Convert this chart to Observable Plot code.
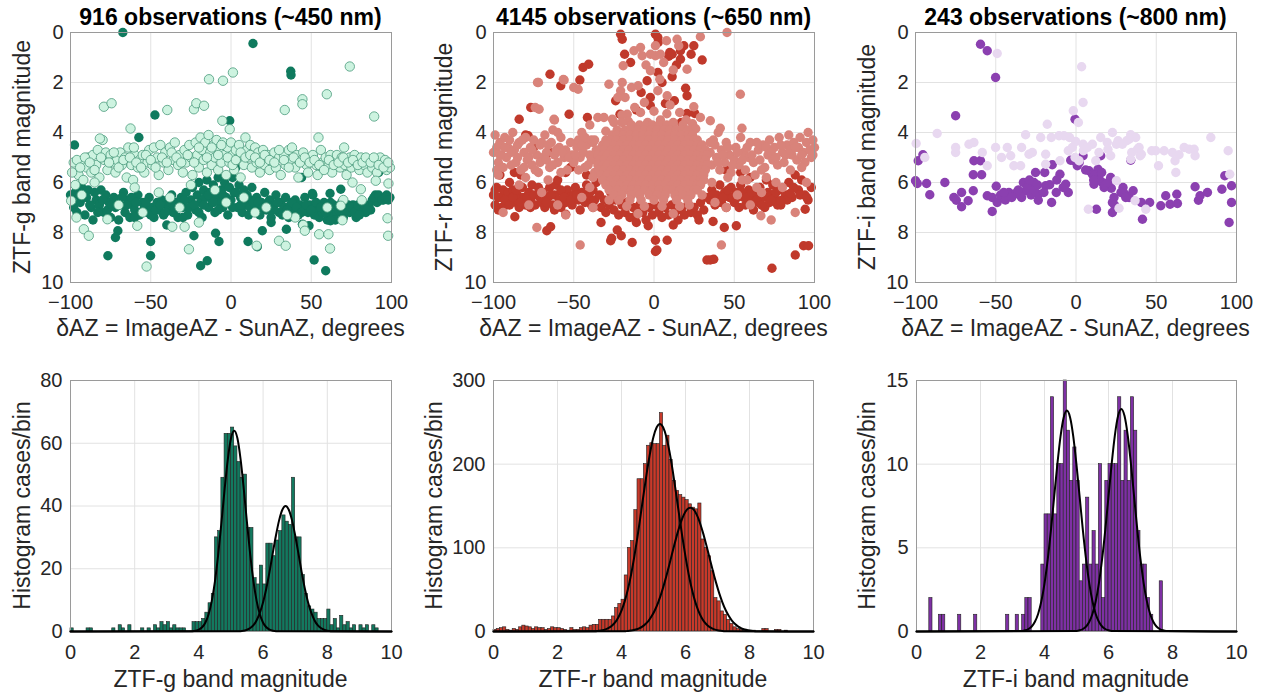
<!DOCTYPE html>
<html><head><meta charset="utf-8">
<script src="https://cdn.jsdelivr.net/npm/d3@7"></script>
<script src="https://cdn.jsdelivr.net/npm/@observablehq/plot@0.6"></script>
<style>
html,body{margin:0;padding:0;background:#fff;}
#root{position:relative;width:1265px;height:696px;overflow:hidden;}
#root svg{position:absolute;left:0;top:0;}
</style></head><body><div id="root"></div>
<script>
// ---------------- DATA ----------------
const titles = ["916 observations (~450 nm)", "4145 observations (~650 nm)", "243 observations (~800 nm)"];
const scatterXLabel = "δAZ = ImageAZ - SunAZ, degrees";
const bandLabels = ["ZTF-g band magnitude", "ZTF-r band magnitude", "ZTF-i band magnitude"];
const histYLabel = "Histogram cases/bin";
const scatterXTicks = [-100, -50, 0, 50, 100];
const scatterYTicks = [0, 2, 4, 6, 8, 10];
const histXTicks = [0, 2, 4, 6, 8, 10];
const histYTicks = [[0, 20, 40, 60, 80], [0, 100, 200, 300], [0, 5, 10, 15]];

// green (ZTF-g) : [dAZ, magnitude]
const gDark = [[-99,6.7],[-98,7.0],[-97,6.4],[-96,7.2],[-94,6.8],[-93,6.2],[-91,7.3],[-90,6.6],[-89,6.3],[-87,7.0],[-86,7.5],[-84,6.7],[-82,6.9],[-81,6.3],[-79,7.2],[-78,6.5],[-76,6.8],[-75,7.4],[-73,6.6],[-72,7.0],[-70,7.5],[-69,6.9],[-67,6.4],[-66,7.2],[-64,6.7],[-63,7.4],[-61,6.9],[-60,7.1],[-58,6.5],[-57,7.3],[-55,6.8],[-54,7.0],[-52,7.2],[-51,6.6],[-49,7.0],[-48,7.4],[-46,6.8],[-45,7.1],[-43,6.7],[-42,7.3],[-40,6.9],[-39,7.1],[-37,6.5],[-36,7.2],[-34,6.8],[-33,7.4],[-31,6.6],[-30,7.0],[-28,6.4],[-27,7.3],[-25,6.7],[-24,6.2],[-22,7.1],[-21,6.5],[-20,6.0],[-19,6.8],[-18,7.4],[-17,6.3],[-16,6.6],[-15,5.9],[-14,7.0],[-13,6.4],[-12,6.7],[-11,6.1],[-10,7.2],[-9,6.5],[-8,5.8],[-7,6.8],[-6,6.3],[-5,7.0],[-4,6.0],[-3,6.6],[-2,7.3],[-1,6.2],[0,6.7],[1,5.8],[2,6.4],[3,5.4],[4,7.0],[5,6.1],[6,6.6],[7,7.2],[8,6.3],[9,6.9],[10,6.5],[11,7.3],[12,6.7],[13,6.2],[15,7.0],[16,6.6],[18,7.3],[19,6.8],[21,6.4],[22,7.1],[24,6.7],[25,7.4],[27,6.9],[28,6.5],[30,7.2],[31,6.8],[33,7.0],[34,6.6],[36,7.4],[37,6.9],[39,7.1],[40,6.7],[42,7.3],[43,6.9],[45,7.0],[46,6.6],[48,7.2],[49,6.9],[51,6.5],[52,7.3],[54,7.0],[55,7.4],[57,7.2],[58,6.8],[60,7.5],[61,7.1],[63,7.3],[64,6.9],[66,7.2],[68,7.0],[70,7.4],[72,7.1],[74,7.2],[76,6.9],[78,7.4],[80,7.1],[82,7.0],[84,7.2],[86,6.9],[88,6.7],[90,6.5],[91,6.8],[93,6.6],[95,6.7],[97,6.5],[99,6.6],
[-100,6.5],[-95,6.5],[-92,6.6],[-88,6.9],[-85,6.4],[-83,7.2],[-80,6.7],[-77,7.1],[-74,6.9],[-71,6.7],[-68,6.6],[-65,6.9],[-62,6.6],[-59,6.8],[-56,7.2],[-53,6.8],[-50,7.3],[-47,7.1],[-44,6.9],[-41,7.2],[-38,6.8],[-35,7.0],[-32,6.9],[-29,6.7],[-26,7.0],[-23,6.9],[-20,7.2],[-17,6.9],[-14,6.5],[-11,6.8],[-8,7.1],[-5,6.5],[-2,6.8],[1,7.0],[3,6.4],[6,6.9],[9,6.6],[12,7.0],[14,6.8],[17,6.8],[20,7.0],[23,6.9],[26,7.1],[29,6.8],[32,7.3],[35,7.1],[38,6.8],[41,7.0],[44,7.2],[47,6.9],[50,7.1],[53,6.8],[56,7.0],[59,7.2],[62,6.8],[65,7.5],[67,7.1],[69,6.8],[71,7.1],[73,6.9],[75,7.0],[77,7.2],[79,6.9],[81,7.2],[83,6.9],[87,7.1],[89,6.6],[92,6.5],[94,6.7],[96,6.6],[98,6.7],
[-67.4,0.0],[13.7,0.44],[37.2,1.55],[37.4,1.7],[-47.4,3.3],[-0.8,3.53],[-57.4,4.2],[-97.5,4.5],[44,5.8],[62,5.27],[92,5.6],[19.5,7.93],[34.5,7.87],[-9.6,8.03],[-7.5,8.36],[10.6,8.36],[16.4,8.57],[-23.1,8.13],[-50.1,8.36],[-50.1,8.93],[-76.7,8.93],[-70.5,7.93],[-72,8.2],[-18.9,9.33],[-14.8,9.13],[51.8,9.1],[59,9.53],[44.5,7.67],[48.6,7.73],[62,7.53],[68.4,6.27],[61.7,6.44],[50.7,6.44],[-60,7.4],[-40,7.7],[-30,7.4],[25,7.6],[80,7.3],[85,7.1]];
const gLight = [[-98,5.2],[-97,6.1],[-95,5.7],[-93,5.2],[-92,5.9],[-90,5.4],[-89,5.0],[-87,5.6],[-86,4.9],[-84,5.3],[-83,4.7],[-82,5.8],[-80,4.3],[-79,5.1],[-78,4.8],[-77,5.5],[-75,4.9],[-74,5.2],[-72,5.6],[-71,5.1],[-69,4.8],[-68,5.3],[-66,5.0],[-65,5.8],[-64,4.6],[-62,5.3],[-61,5.9],[-60,4.9],[-58,5.4],[-57,5.1],[-55,4.9],[-54,5.6],[-52,5.2],[-51,4.7],[-49,5.3],[-48,4.6],[-46,5.0],[-45,5.7],[-44,4.5],[-42,5.2],[-41,4.8],[-39,5.5],[-38,4.6],[-36,5.1],[-35,4.4],[-33,5.3],[-32,4.9],[-30,5.6],[-29,4.7],[-28,5.2],[-26,4.5],[-25,5.0],[-24,5.7],[-22,4.4],[-21,4.9],[-20,5.4],[-19,4.2],[-18,4.7],[-17,5.1],[-16,4.4],[-15,5.6],[-14,4.1],[-13,4.8],[-12,5.3],[-11,4.5],[-10,5.0],[-9,4.3],[-8,5.5],[-7,4.7],[-6,5.2],[-5,4.4],[-4,4.9],[-3,5.7],[-2,4.6],[-1,5.2],[0,4.4],[1,4.9],[2,5.5],[3,4.7],[4,5.1],[5,4.5],[6,5.8],[7,4.9],[8,5.3],[9,4.2],[10,4.7],[11,5.0],[12,4.5],[13,5.4],[14,4.9],[15,4.6],[16,5.2],[17,4.8],[18,5.6],[19,5.0],[20,4.7],[21,5.3],[23,4.9],[24,5.5],[25,5.1],[27,4.8],[28,5.4],[30,5.0],[31,5.7],[33,4.9],[34,5.3],[36,4.7],[37,5.1],[38,4.6],[40,5.4],[41,4.9],[42,5.8],[44,5.1],[45,4.8],[47,5.3],[48,5.6],[50,5.0],[51,4.9],[53,5.3],[54,5.7],[56,4.7],[57,5.2],[59,5.0],[60,5.4],[62,4.9],[63,5.6],[65,5.1],[66,4.9],[68,5.4],[69,5.0],[71,5.3],[72,5.7],[74,5.0],[75,5.4],[77,4.9],[78,5.2],[80,5.5],[81,5.0],[83,5.3],[85,5.6],[86,5.1],[88,5.4],[90,5.1],[91,5.6],[93,5.0],[94,5.3],[96,5.1],[97,5.5],[99,5.4],
[-99,5.6],[-96,5.1],[-94,5.4],[-91,5.0],[-88,5.2],[-85,5.5],[-81,5.0],[-76,5.2],[-73,4.8],[-70,5.4],[-67,5.1],[-63,5.0],[-59,5.2],[-56,5.4],[-53,4.9],[-50,5.1],[-47,5.4],[-43,5.0],[-40,5.2],[-37,4.8],[-34,5.0],[-31,5.2],[-27,4.9],[-23,5.2],[-20,4.6],[-15,5.0],[-12,4.6],[-8,4.9],[-6,4.5],[-2,5.0],[1,5.3],[3,5.1],[6,4.8],[9,5.0],[12,4.9],[15,5.0],[18,5.2],[21,4.9],[24,5.1],[27,5.2],[30,4.7],[33,5.1],[36,5.4],[39,5.0],[43,5.2],[46,5.0],[49,5.2],[52,5.1],[55,5.3],[58,5.5],[61,5.1],[64,5.3],[67,5.2],[70,5.0],[73,5.2],[76,5.1],[79,5.3],[82,5.2],[84,5.0],[87,5.2],[89,5.0],[92,5.3],[95,5.4],[98,5.2],
[-93,6.5],[-70,6.9],[-55,7.2],[-45,6.4],[-38,6.6],[-32,7.0],[-10,6.3],[-3,6.8],[8,6.6],[22,7.0],[40,7.4],[45,7.7],[60,7.0],[-20,7.6],[15,7.2],[35,7.3],[-60,6.2],[-85,6.0],[70,6.7],[-25,6.1],
[-13.7,1.87],[-5,1.93],[1.2,1.6],[74,1.36],[59.7,2.47],[44.5,2.67],[44.5,2.87],[33.5,3.1],[89.2,3.36],[-79.2,2.97],[-74.4,2.83],[-39.7,3.1],[-23.1,3.07],[-21.6,2.83],[-16.8,2.93],[-5.4,3.53],[-0.8,3.87],[-62.6,3.84],[-81.7,4.24],[-60.5,4.6],[54.5,4.2],[70.5,4.6],
[-99.6,6.73],[-96.3,7.4],[-91.7,7.87],[-88.6,8.13],[-77,7.47],[-58.4,7.73],[-52.6,9.36],[-36.6,7.77],[-28.9,7.77],[-26.2,8.67],[16,8.53],[29.9,8.33],[34.1,8.53],[46,7.93],[54.9,8.07],[60.7,8.07],[61.7,8.64],[69.4,7.51],[81.5,6.71],[75.7,6.0],[80.9,6.27],[90.2,5.93],[98.1,6.04],[97.5,7.43],[97.9,8.13],[68.4,6.93]];

// red (ZTF-r)
const rDark = [[-100,6.5],[-99,6.9],[-98,6.2],[-97,7.1],[-96,5.7],[-95,6.6],[-94,6.3],[-92,6.9],[-91,6.4],[-90,6.0],[-89,6.7],[-88,6.3],[-86,6.8],[-85,6.5],[-84,7.0],[-82,6.2],[-81,6.6],[-80,6.9],[-78,6.4],[-77,6.7],[-76,6.1],[-74,6.9],[-73,6.5],[-72,6.2],[-70,6.8],[-69,6.4],[-68,7.0],[-66,6.6],[-65,6.2],[-63,6.9],[-62,6.5],[-61,6.1],[-59,6.7],[-58,7.0],[-57,6.4],[-55,6.8],[-54,6.3],[-53,6.6],[-51,6.9],[-50,6.5],[-49,6.2],[-47,6.7],[-46,7.1],[-45,6.4],[-43,6.8],[-42,6.1],[-41,6.6],[-39,6.9],[-38,6.3],[-37,6.7],[-36,6.0],[-87,5.6],[-83,5.7],[-60,5.9],[-55,5.6],[-42,5.7],[-80,4.1],[-75,4.6],[-65,4.8],[-52,5.4],
[-99,6.3],[-97,6.6],[-95,7.0],[-93,6.7],[-90,6.9],[-88,6.6],[-86,6.3],[-83,6.8],[-79,6.6],[-77,7.0],[-75,6.5],[-71,6.6],[-67,6.8],[-64,6.5],[-62,7.1],[-58,6.3],[-56,6.6],[-52,6.7],[-48,6.5],[-44,6.6],[-40,6.4],[-38,7.0],
[-34,6.5],[-33,7.0],[-31,6.7],[-30,7.2],[-28,6.9],[-27,6.4],[-25,7.1],[-24,6.7],[-22,7.3],[-20,6.9],[-18,7.2],[-17,6.8],[-15,7.4],[-13,7.0],[-11,7.3],[-9,6.9],[-7,7.2],[-5,7.5],[-3,7.0],[-1,7.3],[1,6.9],[3,7.2],[5,7.4],[7,7.0],[9,7.3],[11,6.9],[13,7.2],[15,7.5],[17,7.1],[19,7.3],[21,6.9],[23,7.2],[25,7.0],[27,7.3],[29,6.8],[31,7.1],[33,6.6],[-7,5.8],
[35,6.7],[36,6.3],[38,6.9],[39,6.5],[41,6.1],[42,6.8],[44,6.4],[45,7.0],[47,6.6],[48,6.2],[50,6.8],[51,6.4],[53,7.0],[54,6.1],[56,6.6],[57,6.9],[59,6.3],[60,6.7],[62,7.1],[63,6.5],[65,6.8],[66,6.2],[68,6.6],[69,7.0],[71,6.4],[72,6.8],[74,6.1],[75,6.6],[77,6.9],[78,6.3],[80,6.7],[82,6.5],[84,6.0],[86,6.6],[88,5.7],[90,6.3],[92,5.9],[94,6.5],[96,6.7],[98,6.2],[54,5.6],[60,5.8],[45,5.5],[70,5.9],
[37,6.5],[40,6.8],[43,6.6],[46,6.3],[49,6.6],[52,6.6],[55,6.4],[58,6.6],[61,6.4],[64,6.7],[67,6.9],[70,6.5],[73,6.7],[76,6.4],[79,6.9],[83,6.7],[87,6.2],[91,6.5],
[-20.8,0.07],[-19.8,0.27],[-18.3,0.87],[-14.6,1.2],[0.9,0.07],[2.4,0.2],[2.6,0.4],[9.8,0.8],[9.2,0.95],[11.3,0.87],[16.5,0.73],[18.6,0.53],[24.8,0.53],[30,1.1],[23.1,0.87],[16.5,1.07],[2.4,1.6],[-4.3,1.93],[11.3,1.77],[19.7,2.23],[20.6,2.53],[12.7,2.73],[7.1,2.84],[-2.3,2.6],[-2.3,2.93],[-11,3.1],[20.6,3.24],[25.4,3.24],[-23.9,2.73],[-21.2,3.27],[-41.5,3.4],[-44.2,4.2],[-52.9,3.27],[-58.1,2.13],[-64.8,1.67],[-46.2,1.9],[-44.2,1.4],[-40.7,1.27],[-76.8,3.0],[-84,3.47],[-78.4,4.13],[9.2,3.8],[5,2.0],[14,1.3],[-8,2.4],[17,3.6],
[-66.8,7.93],[-64.4,7.77],[-55,7.27],[-86.7,7.37],[-26.4,8.23],[-22.9,7.9],[-20.4,8.13],[-13.6,8.4],[-27,8.33],[0.9,8.31],[0.9,8.76],[1.8,8.7],[8.2,8.31],[-3.6,7.73],[33,9.1],[35,9.1],[37.2,9.07],[36.8,7.56],[43.8,7.8],[51.3,7.73],[73.5,9.43],[88,8.9],[93.2,8.53],[96.3,8.53],[79,6.73],[84.9,6.44],[95.2,6.6],[94.2,7.07],[-11,7.6],[12,7.7],[-33,7.6],[28,7.5]];
const rLight = [[-99,4.1],[-98,4.6],[-97,5.2],[-96,4.4],[-95,4.9],[-93,4.2],[-92,5.0],[-91,4.6],[-89,5.3],[-88,4.0],[-87,4.7],[-85,5.0],[-84,4.4],[-83,5.5],[-81,4.8],[-80,4.2],[-79,5.1],[-77,4.6],[-76,5.3],[-75,4.3],[-73,4.9],[-72,5.6],[-71,4.5],[-69,5.0],[-68,4.1],[-67,4.8],[-65,5.4],[-64,4.4],[-63,3.9],[-62,4.9],[-60,5.2],[-59,4.6],[-58,4.2],[-56,5.0],[-55,4.7],[-54,5.5],[-52,4.4],[-51,4.9],[-50,5.2],[-48,4.6],[-47,4.3],[-46,5.0],[-44,4.8],[-43,5.4],[-42,4.5],[-40,4.9],[-39,5.1],[-38,4.4],[-37,5.6],[-36,4.7],
[-100,4.8],[-98,5.5],[-96,4.9],[-94,5.4],[-93,4.6],[-90,4.3],[-89,4.8],[-86,5.2],[-85,4.5],[-82,4.3],[-81,5.4],[-78,5.0],[-76,4.7],[-74,5.5],[-71,5.2],[-70,4.4],[-67,5.1],[-66,4.5],[-63,5.3],[-61,4.7],[-58,5.6],[-57,4.8],[-53,5.0],[-49,4.9],[-47,5.5],[-45,4.5],[-43,4.2],[-41,5.3],[-39,4.3],
[-97,5.7],[-94,7.2],[-84,6.1],[-78,6.9],[-73,7.8],[-70,6.4],[-60,6.9],[-55,7.3],[-45,6.6],[-46,8.5],[-40,6.2],[-38,7.0],[-80,5.8],[-66,5.9],[-72,2.0],[-56,1.9],[-74,3.0],[-62,3.5],[-60,4.0],[-50,2.2],[-45,4.0],[-40,3.7],[-35,3.4],
[35,4.8],[36,5.3],[38,4.5],[39,5.0],[41,5.5],[42,4.7],[44,5.2],[45,4.4],[47,4.9],[48,5.6],[50,5.1],[51,4.6],[53,5.3],[54,4.2],[56,4.8],[57,5.5],[59,5.0],[60,4.4],[62,5.2],[63,5.7],[65,4.7],[66,5.1],[68,4.5],[69,5.4],[71,4.9],[72,4.3],[74,5.1],[75,4.6],[77,5.3],[78,4.2],[80,4.8],[81,5.2],[83,4.5],[84,4.1],[86,4.9],[87,4.4],[89,5.1],[90,4.6],[91,4.2],[93,4.8],[94,5.2],[95,4.4],[96,4.0],[97,4.7],[98,5.0],[99,4.3],[100,4.6],[40,4.0],[46,5.8],[58,5.9],[70,5.8],[76,6.0],[85,5.5],[92,5.4],
[37,4.3],[40,5.2],[43,4.9],[46,4.6],[49,5.3],[52,4.8],[55,5.1],[58,4.6],[61,4.9],[64,4.4],[67,5.5],[70,4.6],[73,4.8],[76,5.0],[79,4.5],[82,4.9],[85,4.7],[88,4.6],[92,4.9],[99,4.9],
[38,6.8],[42,8.5],[45,7.0],[52,6.5],[60,6.9],[67,6.4],[66.6,7.33],[73,7.5],[80,6.2],[88,7.2],[95,6.0],[55,5.9],[64,6.2],
[-12.5,0.73],[-8.4,0.6],[-7.4,0.93],[-2.2,0.87],[0.9,0.93],[4,0.87],[7.8,0.33],[14.4,0.27],[15.4,0.53],[28.9,0.17],[45.5,0],[0.9,0.53],[-2.2,1.53],[3.6,1.87],[20.6,1.47],[-19.2,1.33],[-19.8,2.0],[-9.9,2.13],[-28.1,2.07],[-72.6,2.0],[-56.5,1.88],[-47.3,2.27],[-20.8,2.33],[-22.5,2.6],[2.4,2.33],[8.2,2.53],[24.8,2.97],[53.8,2.47],[-71.6,3.07],[-62.3,3.47],[-31.2,3.4],[-26,3.47],[-16.7,3.27],[-8.4,3.2],[28.9,3.4],[35.1,3.53],[41.3,3.83],[54.8,3.83],[-25,3.6],[-20,3.3],[-16,3.55],[-12,3.0],[-4,3.6],[0,3.15],[4,3.5],[8,3.25],[12,3.6],[16,3.2],[20,3.5],[24,3.65],[-18,2.6],[-6,2.8],[10,2.9],[-14,2.2],[6,1.2],[-5,1.3],[12,1.5],
[-37,4.3],[-38,5.8],[35,4.4],[36,6.0],[-30,3.95],[26,3.85],[-20,3.6],[22,6.9],[-28,6.7],[30,6.5]];
// dense central cloud of the r band, read row by row: [magnitude, [dAZ ...]]
const rCloudRows = [
 [3.7, [-14,-9,-5,-1,3,8,12,18]],
 [3.9, [-23,-18,-14.5,-10,-6,-2,2,6.5,10,14,18,21]],
 [4.1, [-26,-23,-19,-15,-11,-7,-3,1,5,9.5,13,17,21,24]],
 [4.3, [-30,-27,-23.5,-19,-15,-11,-7,-3,1,5,9,13,17.5,21,25,27]],
 [4.5, [-32,-29,-25,-21,-17,-13,-9,-5,-1,3,7,11,15,19,23,27,30]],
 [4.7, [-34,-31,-27,-23,-19,-15.5,-11,-7,-3,1,5,9,13,17,21,25,29,32]],
 [4.9, [-35,-32,-29,-25,-21,-17,-13,-9,-5,-1,3,7,11,15,19,23,27,31,33]],
 [5.1, [-34,-31,-27,-23,-19,-15,-11,-7,-3,1,5,9,13,17,21,25,29,32]],
 [5.3, [-35,-32,-29,-25,-21,-17,-13,-9,-5,-1,3,7,11,15,19,23,27,31,33]],
 [5.5, [-34,-31,-27,-23,-19,-15,-11,-7,-3,1,5,9,13,17,21,25,29,32]],
 [5.7, [-33,-29,-25,-21,-17,-13,-9,-5,-1,3,7,11,15,19,23,27,31]],
 [5.9, [-32,-27,-23,-19,-15,-11,-7,-3,1,5,9,13,17,21,25,29,31]],
 [6.1, [-30,-25,-21,-17,-13,-9,-5,-1,3,7,11,15,19,23,27,29]],
 [6.3, [-28,-23,-18,-14,-10,-6,-1,3,8,12,16,21,25,27]],
 [6.5, [-25,-20,-14,-9,-3,2,7,13,18,23]],
 [6.7, [-22,-15,-8,0,6,14,21]],
 [6.95, [-17,-6,5,16]],
 [7.25, [-10,12]]
];

// purple (ZTF-i)
const iDark = [[-59.5,0.47],[-55.3,0.73],[-50.1,1.8],[-75,3.33],[-0.6,3.47],[-98.3,5.13],[-95.4,4.89],[-100,5.93],[-98.9,6.04],[-93.1,6.04],[-91.1,6.49],[-81.7,6.0],[-76.1,6.6],[-74.6,6.71],[-71.3,6.4],[-71.3,6.97],[-67.2,6.73],[-64,6.33],[-63.6,5.13],[-59.5,5.13],[-64,5.69],[-58.8,5.69],[-55.3,6.53],[-52.2,6.6],[-52.2,7.16],[-49.7,6.15],[-49.1,6.8],[-45.9,6.6],[-43.9,6.47],[-41.8,6.4],[-39.7,6.49],[-37.6,6.44],[-33.9,6.6],[-32.8,6.0],[-31.4,6.33],[-29.7,6.13],[-28.3,6.07],[-27.2,6.4],[-26.2,6.0],[-25.2,5.6],[-23.5,6.71],[-23.5,6.47],[-19.5,5.6],[-18.9,6.13],[-16.4,6.09],[-14.8,5.29],[-15.2,6.8],[-12.3,6.4],[-10,5.67],[-6.4,6.07],[-4.8,6.4],[-3.3,5.11],[-1.2,5.13],[0.8,5.33],[4.4,4.93],[8.1,5.53],[10.2,5.67],[11.2,6.07],[12.7,7.07],[13.7,5.47],[15.4,4.93],[14.3,5.83],[16.4,6.0],[17.5,6.2],[21.6,5.8],[22,6.23],[22.7,6.8],[22.7,7.2],[23.7,6.6],[29.3,6.2],[30.6,6.47],[33.1,6.6],[34.1,5.11],[35.6,6.33],[40.7,6.8],[41.4,7.47],[45.9,6.8],[52.8,6.93],[55.9,6.53],[58.6,6.87],[63.2,6.84],[62.8,6.47],[74.2,6.17],[76.3,6.71],[77.3,6.53],[81.9,6.4],[90.9,6.27],[92.7,5.73],[96.9,6.13],[96.9,6.8],[95.4,7.6],
[-30,6.2],[-28,6.5],[-26,6.3],[-24,6.1],[-29,5.9],[-35,6.5],[-47,6.5],[-44,6.7],[12,5.7],[14,5.9],[16,5.6],[18,6.1],[11,5.9],[28,6.4],[31,6.6],[-8,6.2],[2,5.2],[6,5.5],[-20,6.4],[-12,5.9],[-45,6.4],[-40,6.6],[-36,6.3],[20,6.0],[24,6.9]];
const iLight = [[-49.1,0.84],[3.5,1.37],[4.4,2.8],[-1.7,3.13],[1.5,3.6],[-17.9,3.67],[-31.4,4.09],[-22,4.2],[-15.4,4.2],[-10.6,4.13],[-7.5,4.13],[-4,4.2],[-0.2,4.36],[4.4,4.47],[10.2,4.47],[15.4,4.2],[19.5,4.4],[22.7,4.0],[26.2,4.33],[31.6,4.33],[34.1,4.09],[37.2,4.2],[39.3,4.6],[40.7,4.87],[34.7,4.8],[34.1,5.07],[84,4.2],[94.8,4.73],[95.8,5.67],[-86.5,4.04],[-99.6,4.44],[-94.2,5.0],[-75,4.6],[-75,4.8],[-66.7,4.47],[-63.6,4.4],[-58.4,4.8],[-55.3,5.33],[-50.1,4.6],[-46.4,5.0],[-42.8,4.6],[-40.7,4.93],[-38.7,5.33],[-34.5,5.33],[-33.9,4.6],[-29.3,4.87],[-27.2,4.8],[-18.9,4.87],[-18.9,5.27],[-10,5.13],[-4.8,4.73],[-2.3,4.6],[-0.6,5.0],[1.9,5.13],[4.6,4.73],[7.1,4.6],[12.3,5.13],[14.3,4.8],[19.9,4.67],[21.6,4.93],[25.2,4.47],[28.9,4.47],[33.1,4.27],[38.3,4.67],[40,4.93],[47.2,4.73],[49.7,4.73],[51.4,5.33],[54.9,4.73],[60.1,4.8],[61.7,5.13],[62.2,5.6],[64.2,4.89],[67.4,4.6],[70.5,4.67],[73.6,4.67],[74.2,4.93],[7.7,7.07],[25.2,5.93],[26.8,7.03],[36.8,6.73],[43.5,7.07]];

// histograms: counts per 0.1-magnitude bin, starting at magnitude 0.0
const binWidth = 0.1;
const gCounts = [1,0,0,0,0,1,1,0,0,0, 0,0,0,1,0,2,1,0,2,0, 0,0,1,0,1,0,2,1,3,2, 3,1,2,1,1,1,0,0,3,3, 3,4,6,9,12,30,32,49,63,63, 65,59,54,49,50,33,33,17,15,21, 15,28,28,24,29,32,37,35,34,49, 30,30,18,12,8,7,6,4,4,4, 7,2,4,1,5,2,3,1,2,0, 2,1,2,0,2,1,0,0,0,0];
const rCounts = [2,3,4,5,2,1,3,2,5,7, 6,5,3,5,4,4,2,3,5,4, 4,3,2,1,4,2,2,4,5,4, 7,8,8,14,14,14,14,18,28,33, 38,67,100,108,145,182,182,200,222,225, 224,224,261,222,234,205,180,168,163,160, 157,152,148,146,153,110,100,90,72,40, 36,24,20,14,9,5,3,2,1,1, 1,1,0,0,3,3,0,0,2,2, 0,1,0,0,0,0,0,0,0,0];
const iCounts = [0,0,0,0,2,0,0,1,1,0, 0,0,0,1,0,0,0,0,1,0, 0,0,0,0,0,0,0,0,1,0, 0,1,0,1,2,2,0,0,0,4, 7,7,14,7,10,10,15,12,9,11, 9,3,4,8,4,6,4,10,2,9, 10,10,10,14,9,12,9,14,12,6, 4,4,2,1,0,0,3,0,0,0, 0,0,0,0,0,0,0,0,0,0, 0,0,0,0,0,0,0,0,0,0];

// fitted Gaussian curves: [magnitude, cases]
const gFit1 = [[0,0],[3.8,0.1],[3.9,0.25],[4.0,0.6],[4.1,1.35],[4.2,2.8],[4.3,5.4],[4.4,9.7],[4.5,16.0],[4.6,24.4],[4.7,34.5],[4.8,45.2],[4.9,54.8],[5.0,61.6],[5.1,64],[5.2,61.6],[5.3,54.8],[5.4,45.2],[5.5,34.5],[5.6,24.4],[5.7,16.0],[5.8,9.7],[5.9,5.4],[6.0,2.8],[6.1,1.35],[6.2,0.6],[6.3,0.25],[6.4,0.1],[10,0]];
const gFit2 = [[0,0],[5.3,0.1],[5.4,0.26],[5.5,0.55],[5.6,1.1],[5.7,2.0],[5.8,3.6],[5.9,6.0],[6.0,9.3],[6.1,13.7],[6.2,19.0],[6.3,24.9],[6.4,30.6],[6.5,35.5],[6.6,38.8],[6.7,40],[6.8,38.8],[6.9,35.5],[7.0,30.6],[7.1,24.9],[7.2,19.0],[7.3,13.7],[7.4,9.3],[7.5,6.0],[7.6,3.6],[7.7,2.0],[7.8,1.1],[7.9,0.55],[8.0,0.26],[8.1,0.1],[10,0]];
const rFit1 = [[0,0],[3.1,0.2],[3.2,0.4],[3.3,0.8],[3.4,1.4],[3.5,2.5],[3.6,4.2],[3.7,6.9],[3.8,10.9],[3.9,16.8],[4.0,25.0],[4.1,36.0],[4.2,50.4],[4.3,68.2],[4.4,89.4],[4.5,113.5],[4.6,139.7],[4.7,166.5],[4.8,192.2],[4.9,214.8],[5.0,232.7],[5.1,244.1],[5.2,248],[5.3,244.1],[5.4,232.7],[5.5,214.8],[5.6,192.2],[5.7,166.5],[5.8,139.7],[5.9,113.5],[6.0,89.4],[6.1,68.2],[6.2,50.4],[6.3,36.0],[6.4,25.0],[6.5,16.8],[6.6,10.9],[6.7,6.9],[6.8,4.2],[6.9,2.5],[7.0,1.4],[7.1,0.8],[7.2,0.4],[7.3,0.2],[10,0]];
const rFit2 = [[0,0],[4.05,0.25],[4.15,0.45],[4.25,0.8],[4.35,1.4],[4.45,2.3],[4.55,3.7],[4.65,5.8],[4.75,8.9],[4.85,13.1],[4.95,18.7],[5.05,26.0],[5.15,35.2],[5.25,46.2],[5.35,59.0],[5.45,73.2],[5.55,88.3],[5.65,103.3],[5.75,117.6],[5.85,130.0],[5.95,139.7],[6.05,145.9],[6.15,148],[6.25,145.9],[6.35,139.7],[6.45,130.0],[6.55,117.6],[6.65,103.3],[6.75,88.3],[6.85,73.2],[6.95,59.0],[7.05,46.2],[7.15,35.2],[7.25,26.0],[7.35,18.7],[7.45,13.1],[7.55,8.9],[7.65,5.8],[7.75,3.7],[7.85,2.3],[7.95,1.4],[8.05,0.8],[8.15,0.45],[8.25,0.25],[10,0]];
const iFit1 = [[0,0],[3.3,0.03],[3.4,0.07],[3.5,0.15],[3.6,0.30],[3.7,0.58],[3.8,1.05],[3.9,1.79],[4.0,2.86],[4.1,4.29],[4.2,6.04],[4.3,8.01],[4.4,9.96],[4.5,11.65],[4.6,12.79],[4.7,13.2],[4.8,12.79],[4.9,11.65],[5.0,9.96],[5.1,8.01],[5.2,6.04],[5.3,4.29],[5.4,2.86],[5.5,1.79],[5.6,1.05],[5.7,0.58],[5.8,0.30],[5.9,0.15],[6.0,0.07],[6.1,0.03],[10,0]];
const iFit2 = [[0,0],[5.0,0.03],[5.1,0.07],[5.2,0.15],[5.3,0.30],[5.4,0.58],[5.5,1.06],[5.6,1.80],[5.7,2.88],[5.8,4.32],[5.9,6.09],[6.0,8.07],[6.1,10.04],[6.2,11.74],[6.3,12.89],[6.4,13.3],[6.5,12.89],[6.6,11.74],[6.7,10.04],[6.8,8.07],[6.9,6.09],[7.0,4.32],[7.1,2.88],[7.2,1.80],[7.3,1.06],[7.4,0.58],[7.5,0.30],[7.6,0.15],[7.7,0.07],[7.8,0.03],[10,0]];

// ---------------- DRAWING ----------------
const W = 1265, H = 696;
const FONT = "'Liberation Sans', Arial, Helvetica, sans-serif";
const root = document.getElementById("root");
const boxes = {
  top: [{l:70,r:391,t:32,b:282},{l:493,r:814,t:32,b:282},{l:915,r:1236,t:32,b:282}],
  bot: [{l:70,r:391,t:380,b:631},{l:493,r:813,t:380,b:631},{l:916,r:1236,t:380,b:631}]
};
const palette = [
  {dark:"#0f7a5e", light:"#cdf3e0", lightStroke:"#4a9a7c", bar:"#13795f"},
  {dark:"#c0392b", light:"#d9837a", lightStroke:"none", bar:"#c8392a"},
  {dark:"#8b40b0", light:"#e8d8f0", lightStroke:"none", bar:"#7e30a4"}
];
const gridColor = "#e2e2e2", frameColor = "#9a9a9a";
const DOT_R = 4.7;

function makePlot(box, x, y, marks) {
  const svg = Plot.plot({
    width: W, height: H,
    marginLeft: box.l, marginRight: W - box.r, marginTop: box.t, marginBottom: H - box.b,
    x, y,
    style: {background: "transparent", fontFamily: FONT, color: "#262626", overflow: "visible"},
    marks
  });
  root.appendChild(svg);
}

const dx = d => d[0], dy = d => d[1];
const scatterSets = [
  [gDark, gLight],
  [rDark, rLight.concat(rCloudRows.flatMap(([m, xs]) => xs.map(v => [v, m])))],
  [iDark, iLight]
];
scatterSets.forEach(([dk, lt], k) => {
  const p = palette[k];
  makePlot(boxes.top[k],
    {domain: [-100, 100]},
    {domain: [0, 10], reverse: true},
    [
      Plot.gridX(scatterXTicks, {stroke: gridColor, strokeOpacity: 1}),
      Plot.gridY(scatterYTicks, {stroke: gridColor, strokeOpacity: 1}),
      Plot.dot(dk, {x: dx, y: dy, r: DOT_R, fill: p.dark, stroke: "none"}),
      Plot.dot(lt, {x: dx, y: dy, r: DOT_R, fill: p.light, stroke: p.lightStroke, strokeWidth: 0.8}),
      Plot.frame({stroke: frameColor}),
      Plot.axisX(scatterXTicks, {tickSize: 0, tickPadding: 12, fontSize: 20, label: null}),
      Plot.axisY(scatterYTicks, {tickSize: 0, tickPadding: 7, fontSize: 20, label: null})
    ]);
});

const histSets = [[gCounts, gFit1, gFit2, 80], [rCounts, rFit1, rFit2, 300], [iCounts, iFit1, iFit2, 15]];
histSets.forEach(([counts, f1, f2, ymax], k) => {
  const p = palette[k];
  const bins = counts.map((n, i) => ({x0: i * binWidth, n})).filter(d => d.n > 0);
  makePlot(boxes.bot[k],
    {domain: [0, 10]},
    {domain: [0, ymax]},
    [
      Plot.gridX(histXTicks, {stroke: gridColor, strokeOpacity: 1}),
      Plot.gridY(histYTicks[k], {stroke: gridColor, strokeOpacity: 1}),
      Plot.rectY(bins, {x1: d => d.x0, x2: d => d.x0 + binWidth, y: d => d.n, fill: p.bar, stroke: "#222", strokeWidth: 0.6}),
      Plot.frame({stroke: frameColor}),
      Plot.line(f1, {x: dx, y: dy, stroke: "#000", strokeWidth: 2, curve: "monotone-x"}),
      Plot.line(f2, {x: dx, y: dy, stroke: "#000", strokeWidth: 2, curve: "monotone-x"}),
      Plot.axisX(histXTicks, {tickSize: 0, tickPadding: 13, fontSize: 20, label: null}),
      Plot.axisY(histYTicks[k], {tickSize: 0, tickPadding: 8, fontSize: 20, label: null})
    ]);
});

// titles and axis labels
const t = d3.select(root).append("svg").attr("width", W).attr("height", H)
  .style("font-family", FONT).style("fill", "#262626");
const yLabX = {top: [30, 452, 875], bot: [30, 442, 875]};
[0, 1, 2].forEach(k => {
  const bt = boxes.top[k], bb = boxes.bot[k];
  const cxT = (bt.l + bt.r) / 2, cxB = (bb.l + bb.r) / 2;
  t.append("text").attr("x", cxT).attr("y", 25).attr("text-anchor", "middle")
    .style("font-size", "23px").style("font-weight", "bold").style("fill", "#000").text(titles[k]);
  t.append("text").attr("x", cxT).attr("y", 336).attr("text-anchor", "middle")
    .style("font-size", "23px").text(scatterXLabel);
  t.append("text").attr("x", cxB).attr("y", 687).attr("text-anchor", "middle")
    .style("font-size", "23px").text(bandLabels[k]);
  t.append("text").attr("transform", `translate(${yLabX.top[k]},${(bt.t + bt.b) / 2}) rotate(-90)`)
    .attr("text-anchor", "middle").style("font-size", "23px").text(bandLabels[k]);
  t.append("text").attr("transform", `translate(${yLabX.bot[k]},${(bb.t + bb.b) / 2}) rotate(-90)`)
    .attr("text-anchor", "middle").style("font-size", "23px").text(histYLabel);
});
</script></body></html>
